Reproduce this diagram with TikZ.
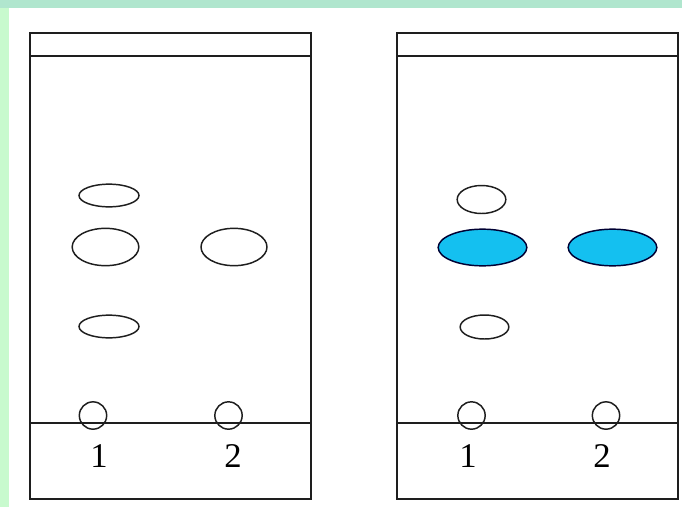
\documentclass[tikz,border=0pt]{standalone}
\usepackage{fontspec}
\setmainfont{Liberation Serif}
\usetikzlibrary{shapes.geometric}
\definecolor{topband}{RGB}{176,230,206}
\definecolor{leftband}{RGB}{200,250,206}
\definecolor{spotblue}{RGB}{20,192,240}
\definecolor{linegray}{RGB}{30,30,30}
\begin{document}
\begin{tikzpicture}[x=0.75pt,y=-0.75pt,
  plate/.style={draw=linegray,line width=1.4pt},
  spot/.style={ellipse,draw=linegray,line width=1.1pt,inner sep=0pt,fill=white},
  bluespot/.style={spot,fill=spotblue,draw=black!80!blue},
  lab/.style={inner sep=0pt,font=\fontsize{26}{30}\selectfont}]
\useasboundingbox (0,0) rectangle (682,507);
\fill[topband] (0,0) rectangle (682,8);
\fill[leftband] (0,8) rectangle (9,507);
\fill[white] (9,8) rectangle (682,507);
% left plate
\draw[plate] (30,33) rectangle (311,499);
\draw[plate] (30,56) -- (311,56);
\draw[plate] (30,423) -- (311,423);
\node[spot,minimum width=45pt,minimum height=17pt] (l1a) at (109,195.5) {};
\node[spot,minimum width=50pt,minimum height=28pt] (l1b) at (105.5,247) {};
\node[spot,minimum width=45pt,minimum height=17pt] (l1c) at (109,326.5) {};
\node[spot,minimum width=49.5pt,minimum height=28pt] (l2a) at (234,247) {};
\node[spot,circle,minimum size=20.5pt,fill=none] (l1o) at (93,415.5) {};
\node[spot,circle,minimum size=20.5pt,fill=none] (l2o) at (228.5,415.5) {};
\node[lab] (l1t) at (99,456) {1};
\node[lab] (l2t) at (233,456) {2};
% right plate
\draw[plate] (397,33) rectangle (678,499);
\draw[plate] (397,56) -- (678,56);
\draw[plate] (397,423) -- (678,423);
\node[spot,minimum width=36.5pt,minimum height=21pt] (r1a) at (481.5,199.5) {};
\node[bluespot,minimum width=66.5pt,minimum height=27.5pt] (r1b) at (482.5,247.5) {};
\node[spot,minimum width=36.5pt,minimum height=18pt] (r1c) at (484.5,327) {};
\node[bluespot,minimum width=66.5pt,minimum height=27.5pt] (r2a) at (612.5,247.5) {};
\node[spot,circle,minimum size=20.5pt,fill=none] (r1o) at (471.5,415.5) {};
\node[spot,circle,minimum size=20.5pt,fill=none] (r2o) at (606,415.5) {};
\node[lab] (r1t) at (468,456) {1};
\node[lab] (r2t) at (602,456) {2};
\end{tikzpicture}
\end{document}
